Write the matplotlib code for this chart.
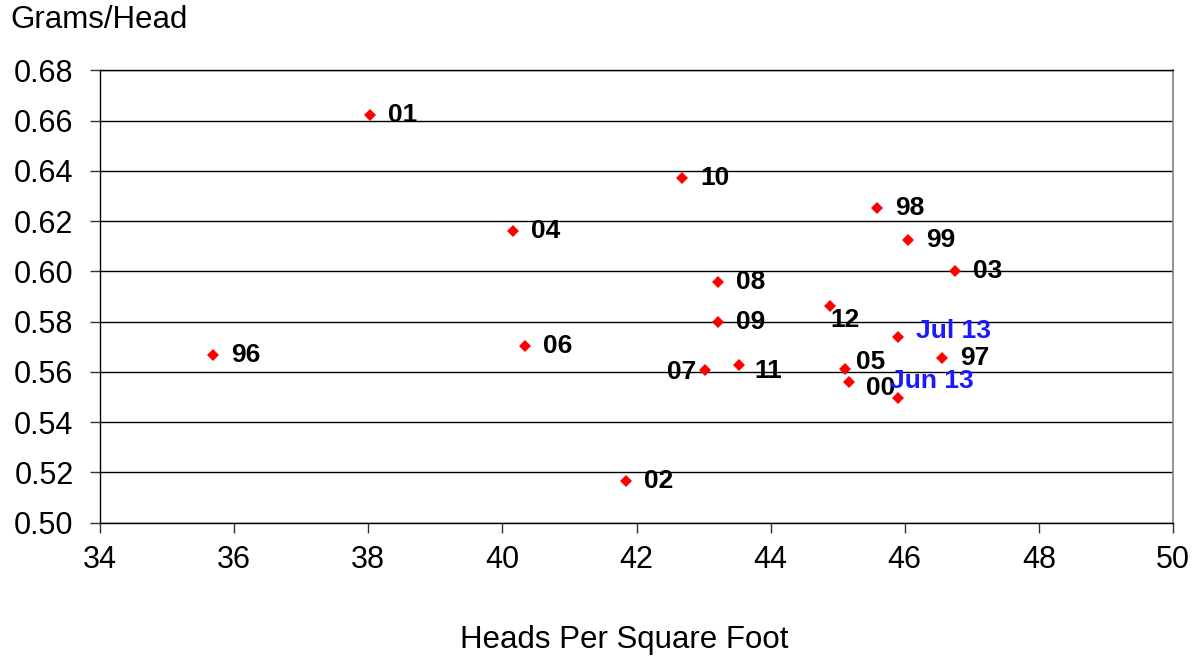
import matplotlib
matplotlib.use("Agg")
import matplotlib.pyplot as plt

# data
labels = ["96", "01", "10", "04", "06", "02", "08", "09", "07", "11",
          "12", "05", "00", "Jun 13", "Jul 13", "97", "98", "99", "03"]
heads = [35.69, 38.03, 42.68, 40.16, 40.34, 41.84, 43.22, 43.22, 43.02, 43.53,
         44.89, 45.11, 45.17, 45.90, 45.90, 46.55, 45.59, 46.05, 46.75]
grams = [0.5667, 0.6622, 0.6371, 0.6160, 0.5703, 0.5166, 0.5957, 0.5800, 0.5608, 0.5626,
         0.5862, 0.5613, 0.5560, 0.5495, 0.5740, 0.5654, 0.6252, 0.6125, 0.6003]
xticks = [34, 36, 38, 40, 42, 44, 46, 48, 50]
yticks = [0.50, 0.52, 0.54, 0.56, 0.58, 0.60, 0.62, 0.64, 0.66, 0.68]

plt.rcParams['font.family'] = ['Liberation Sans', 'DejaVu Sans']

# label placement (pixel offsets from the marker, ha)
default_off = (18, 0, "left")
special_off = {
    "07": (-9, -2, "right"),
    "11": (15, -6, "left"),
    "12": (0, -14, "left"),
    "05": (11, 7, "left"),
    "00": (17, -6, "left"),
    "Jun 13": (-8, 17, "left"),
    "Jul 13": (18, 6, "left"),
}

fig = plt.figure(figsize=(11.97, 6.59), dpi=100)
ax = fig.add_axes([100 / 1197, 1 - 522.7 / 659, 1073 / 1197, 452.4 / 659])

ax.plot(heads, grams, linestyle="none", marker="D", markersize=6.5,
        color="#ff0000", markeredgewidth=0, zorder=3)

for lab, x, y in zip(labels, heads, grams):
    dx, dy, ha = special_off.get(lab, default_off)
    col = "#1a1aff" if " " in lab else "black"
    ax.annotate(lab, (x, y), xytext=(dx * 0.72, dy * 0.72), textcoords="offset points",
                ha=ha, va="center", fontsize=19, fontweight="bold", color=col, zorder=4)

ax.set_xlim(34, 50)
ax.set_ylim(0.50, 0.68)
ax.set_xticks(xticks)
ax.set_yticks(yticks)
ax.set_xticklabels([str(t) for t in xticks])
ax.set_yticklabels([f"{t:.2f}" for t in yticks])
ax.tick_params(axis="both", labelsize=22, length=7, width=1, color="#333333")
ax.tick_params(axis="y", pad=12)
ax.tick_params(axis="x", pad=9)
ax.yaxis.grid(True, color="black", linewidth=1)
ax.set_axisbelow(True)
for s in ["left", "bottom", "top"]:
    ax.spines[s].set_color("black")
    ax.spines[s].set_linewidth(1)
ax.spines["right"].set_color("#808080")
ax.spines["right"].set_linewidth(1.2)

fig.text(10 / 1197, 1 - 20 / 659, "Grams/Head", fontsize=22.5, va="center", ha="left")
fig.text(624 / 1197, 1 - 640 / 659, "Heads Per Square Foot", fontsize=22.5, va="center", ha="center")

fig.savefig("out.png", dpi=100)
